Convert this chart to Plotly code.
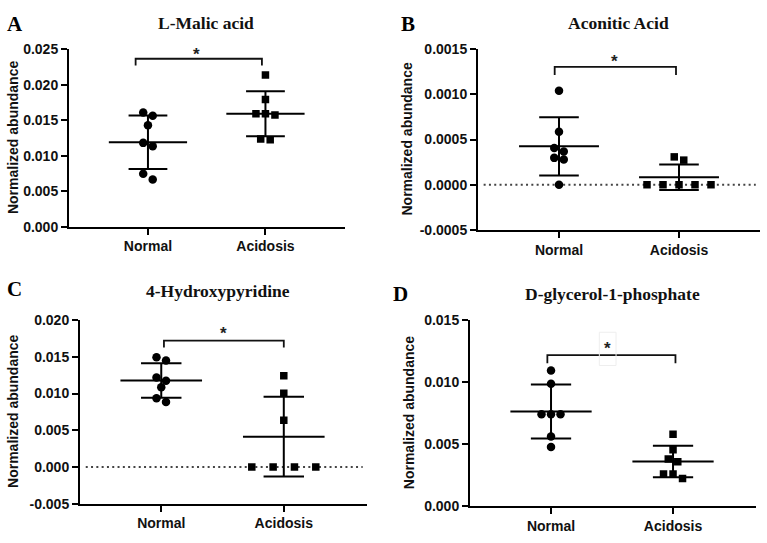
import numpy as np
import plotly.graph_objects as go

# ---------------- data ----------------
groups = ["Normal", "Acidosis"]
titles = ["L-Malic acid", "Aconitic Acid", "4-Hydroxypyridine", "D-glycerol-1-phosphate"]
letters = ["A", "B", "C", "D"]

malic_normal = [0.0161, 0.01565, 0.01432, 0.01182, 0.01136, 0.00748, 0.00665]
malic_acidosis = [0.0214, 0.01794, 0.01592, 0.01592, 0.01574, 0.01236, 0.01227]

aconitic_normal = [0.001038, 0.000587, 0.000405, 0.000368, 0.000297, 0.000279, 0.0]
aconitic_acidosis = [0.000308, 0.000272, 0.0, 0.0, 0.0, 0.0, 0.0]

hydroxypyridine_normal = [0.01495, 0.01451, 0.01218, 0.01174, 0.01086, 0.00937, 0.00884]
hydroxypyridine_acidosis = [0.01244, 0.01003, 0.00637, 0.0, 0.0, 0.0, 0.0]

glycerol_normal = [0.01094, 0.00987, 0.00742, 0.00742, 0.00742, 0.00563, 0.00477]
glycerol_acidosis = [0.0058, 0.00455, 0.0038, 0.00359, 0.0026, 0.0026, 0.00223]

malic_ticks = ["0.000", "0.005", "0.010", "0.015", "0.020", "0.025"]
aconitic_ticks = ["-0.0005", "0.0000", "0.0005", "0.0010", "0.0015"]
hydroxypyridine_ticks = ["-0.005", "0.000", "0.005", "0.010", "0.015", "0.020"]
glycerol_ticks = ["0.000", "0.005", "0.010", "0.015"]

significance = ["*", "*", "*", "*"]

panels_data = [
    (malic_normal, malic_acidosis, malic_ticks),
    (aconitic_normal, aconitic_acidosis, aconitic_ticks),
    (hydroxypyridine_normal, hydroxypyridine_acidosis, hydroxypyridine_ticks),
    (glycerol_normal, glycerol_acidosis, glycerol_ticks),
]

# ---------------- layout geometry (pixels) ----------------
W, H = 767, 543
boxes = [(69, 42.7, 345, 225.3), (478, 42.3, 760, 228.7),
         (80, 321.7, 367, 510.7), (470, 321.7, 756, 513.3)]
xranges = [(-0.672, 1.677), (-0.675, 1.675), (-0.663, 1.679), (-0.664, 1.68)]
yranges = [(0, 0.025), (-0.0005, 0.0015), (-0.005, 0.02), (0, 0.015)]
dotted_zero = [False, True, True, False]
# bracket: (x_left, x_right, y_top, y_end, star_x, star_y)
brackets = [(-0.105, 0.97, 0.02369, 0.02273, 0.41, 0.02492),
            (-0.036, 0.975, 0.001302, 0.001213, 0.46, 0.001407),
            (0.022, 1.0, 0.01723, 0.01627, 0.51, 0.01868),
            (-0.03, 1.02, 0.01218, 0.01153, 0.46, 0.01304)]
letter_pos = [(14.7, 16), (408, 16), (14.7, 289.5), (400, 294.5)]
title_pos = [(206.3, 15), (618.8, 15), (218, 292), (612, 295)]
ytitle_x = [13, 407, 13, 409]

SERIF = "Liberation Serif, Times New Roman, serif"
SANS = "Liberation Sans, Arial, sans-serif"


def swarm_offsets(vals, ypx, xpx, thresh=6.5, step=9.5, wide=64.0):
    vals = np.asarray(vals, dtype=float)
    order = np.argsort(-vals, kind="stable")
    rows = []
    for i in order:
        if rows and (vals[rows[-1][-1]] - vals[i]) * ypx <= thresh:
            rows[-1].append(i)
        else:
            rows.append([i])
    off = np.zeros(len(vals))
    for r in rows:
        n = len(r)
        if n == 1:
            continue
        same = np.allclose(vals[r], vals[r[0]])
        s = wide / (n - 1) if (same and n >= 4) else step
        for k, idx in enumerate(r):
            off[idx] = (k - (n - 1) / 2) * s / xpx
    return off


fig = go.Figure()
layout = dict(width=W, height=H, margin=dict(l=0, r=0, t=0, b=0),
              plot_bgcolor="white", paper_bgcolor="white", showlegend=False)
annotations = []
shapes = []

MEAN_HW, CAP_HW = 0.333, 0.165

for p, ((nv, av, ticks), box, xr, yr) in enumerate(zip(panels_data, boxes, xranges, yranges)):
    sfx = "" if p == 0 else str(p + 1)
    xa, ya = "x" + sfx, "y" + sfx
    l, t, r, b = box
    xdom = [l / W, r / W]
    ydom = [1 - b / H, 1 - t / H]
    xpx = (r - l) / (xr[1] - xr[0])
    ypx = (b - t) / (yr[1] - yr[0])

    tickvals = [float(s) for s in ticks]
    layout["xaxis" + sfx] = dict(
        domain=xdom, range=list(xr), anchor=ya, showgrid=False, zeroline=False,
        showline=True, linewidth=2, linecolor="black", ticks="outside", ticklen=6,
        tickwidth=2, tickcolor="black", tickvals=[0, 1],
        ticktext=["<b>" + g + "</b>" for g in groups],
        tickfont=dict(family=SANS, size=14, color="#111111"),
        fixedrange=True)
    layout["yaxis" + sfx] = dict(
        domain=ydom, range=list(yr), anchor=xa, showgrid=False, zeroline=False,
        showline=True, linewidth=2, linecolor="black", ticks="outside", ticklen=6,
        tickwidth=2, tickcolor="black", tickvals=tickvals,
        ticktext=["<b>" + s + "</b>" for s in ticks],
        tickfont=dict(family=SANS, size=14, color="#111111"),
        fixedrange=True)

    if dotted_zero[p]:
        shapes.append(dict(type="line", xref=xa + " domain", yref=ya, x0=0.02, x1=0.985,
                           y0=0, y1=0, line=dict(color="#444444", width=2, dash="2px,3.3px"),
                           layer="below"))

    for g, (vals, sym, msize) in enumerate([(nv, "circle", 8.5), (av, "square", 7.5)]):
        arr = np.asarray(vals, dtype=float)
        m = arr.mean()
        sd = arr.std(ddof=1)
        lx = [g - MEAN_HW, g + MEAN_HW, None,
              g - CAP_HW, g + CAP_HW, None,
              g - CAP_HW, g + CAP_HW, None,
              g, g]
        ly = [m, m, None, m + sd, m + sd, None, m - sd, m - sd, None, m - sd, m + sd]
        fig.add_trace(go.Scatter(x=lx, y=ly, mode="lines", xaxis=xa, yaxis=ya,
                                 line=dict(color="black", width=2), hoverinfo="skip"))
        offs = swarm_offsets(arr, ypx, xpx)
        fig.add_trace(go.Scatter(x=g + offs, y=arr, mode="markers", xaxis=xa, yaxis=ya,
                                 marker=dict(symbol=sym, size=msize, color="black",
                                             line=dict(width=0)),
                                 name=groups[g]))

    bx0, bx1, byt, bye, sx, sy = brackets[p]
    shapes.append(dict(type="path", xref=xa, yref=ya,
                       path=f"M {bx0},{bye} L {bx0},{byt} L {bx1},{byt} L {bx1},{bye}",
                       line=dict(color="#111111", width=1.8)))
    annotations.append(dict(x=sx, y=sy, xref=xa, yref=ya, text="<b>" + significance[p] + "</b>",
                            showarrow=False, yshift=-4,
                            font=dict(family=SANS, size=17, color="#222222")))

    # panel letter and title
    lxp, lyp = letter_pos[p]
    annotations.append(dict(x=lxp / W, y=1 - lyp / H, xref="paper", yref="paper",
                            text="<b>" + letters[p] + "</b>", showarrow=False,
                            xanchor="center", yanchor="middle",
                            font=dict(family=SERIF, size=21, color="black")))
    txp, typ = title_pos[p]
    annotations.append(dict(x=txp / W, y=1 - typ / H, xref="paper", yref="paper",
                            text="<b>" + titles[p] + "</b>", showarrow=False,
                            xanchor="center", yanchor="middle",
                            font=dict(family=SERIF, size=17.5, color="#111111")))
    annotations.append(dict(x=ytitle_x[p] / W, y=1 - (t + b) / 2 / H, xref="paper",
                            yref="paper", text="<b>Normalized abundance</b>",
                            showarrow=False, textangle=-90, xanchor="center",
                            yanchor="middle",
                            font=dict(family=SANS, size=14, color="#111111")))

# faint box around the star in panel D
shapes.append(dict(type="rect", xref="x4", yref="y4", x0=0.396, x1=0.533,
                   y0=0.01135, y1=0.01403, line=dict(color="#eeeeee", width=1)))

layout["annotations"] = annotations
layout["shapes"] = shapes
fig.update_layout(**layout)
fig.write_html("out.html")
